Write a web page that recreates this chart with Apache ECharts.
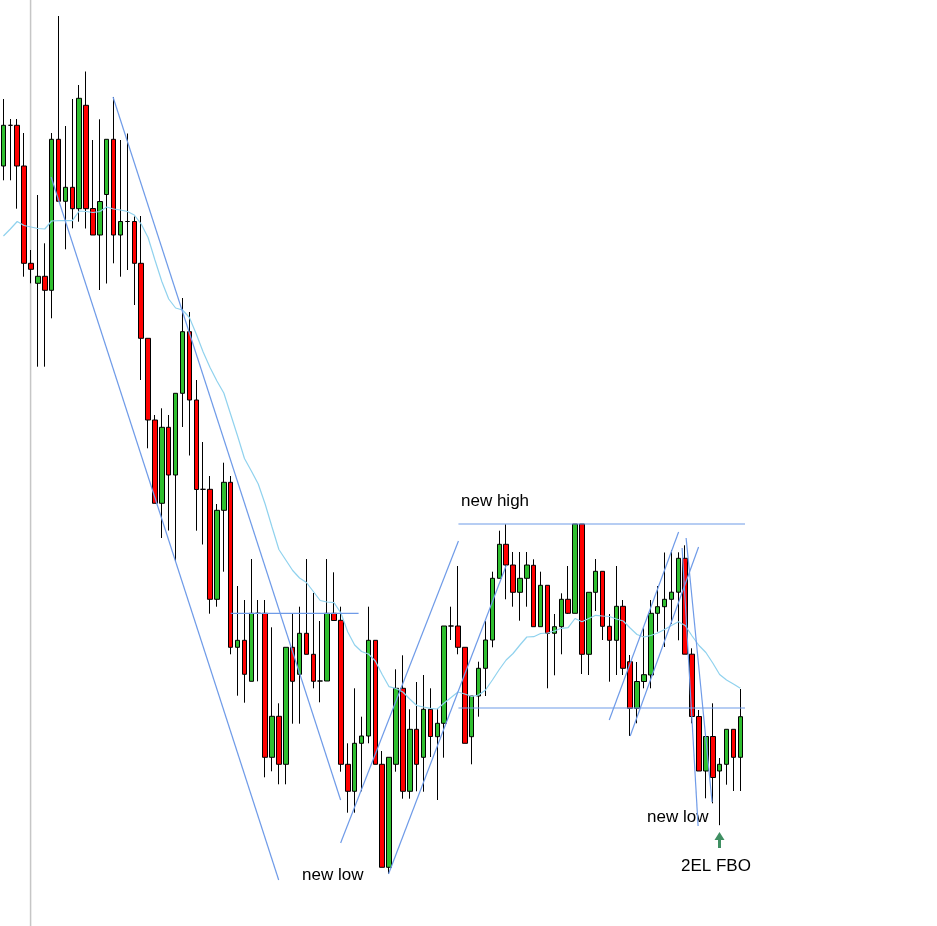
<!DOCTYPE html>
<html>
<head>
<meta charset="utf-8">
<script src="https://cdn.jsdelivr.net/npm/echarts@6/dist/echarts.min.js"></script>
<style>
html,body{margin:0;padding:0;background:#fff;}
#chart{width:937px;height:926px;}
</style>
</head>
<body>
<div id="chart"></div>
<script>
// Price values (arbitrary units; axis hidden)
const opens = [
760, 800.7, 800.7, 760, 662.7, 642.7, 649.7, 635.7, 786.7, 724.7,
738.7, 717.3, 820.7, 717.5, 691, 731.5, 786.7, 691, 704.5, 704.5,
662.7, 587.7, 506, 422.7, 498.7, 451, 532.7, 594.3, 526, 436.7,
436.7, 326.7, 415.7, 443.7, 278.7, 285.7, 244.7, 312.7, 312.7, 168.7,
209.7, 161.7, 278.7, 251.7, 292.7, 271.7, 245, 245, 312.7, 305.7,
161.7, 134.7, 182.7, 190, 285.7, 161.7, 58.7, 161.7, 237.7, 134.7,
196.7, 168.7, 216.7, 189.3, 202.7, 300, 300, 278.7, 189.3, 230,
257.7, 286, 347.7, 381.7, 361, 333.7, 347.7, 360.7, 299.3, 340.7,
292.7, 299.3, 326.7, 312.7, 402, 271.7, 333.7, 354.7, 299.7, 285.7,
319.7, 264.3, 217.7, 244.5, 251, 312.7, 319.3, 326.7, 333.8, 367.7,
271.8, 209.5, 155, 189.5, 155, 161.7, 196.7, 168.7
];
const closes = [
800.7, 800.7, 760, 662.7, 656.7, 649.7, 635.7, 786.7, 724.7, 738.7,
717.3, 827.7, 717.3, 691, 724.5, 786.7, 691, 704.5, 704.5, 662.7,
587.7, 506, 422.7, 498.7, 451, 532.7, 594.3, 526, 436.5, 436.7,
326.7, 415.7, 443.7, 278.7, 285.7, 251.7, 312.7, 312.7, 168.7, 209.7,
161.7, 278.7, 244.7, 292.7, 271.7, 244.7, 245, 312.7, 305.5, 161.7,
134.7, 182.7, 190, 285.7, 161.7, 58.7, 168.7, 237.7, 134.7, 196.7,
161.7, 216.7, 189.5, 202.7, 300, 300, 278.7, 182.7, 230, 257.7,
286, 347.7, 381.7, 361, 333.7, 347.7, 361, 299.3, 340.7, 292.7,
299.3, 326.7, 312.7, 402, 271.7, 333.7, 354.7, 299.7, 285.7, 319.7,
257.7, 217.7, 244.5, 251.3, 312.7, 319.3, 326.7, 333.8, 367.7, 271.8,
209.5, 155, 189.5, 148.5, 161.7, 196.7, 168.7, 209.3
];
const lows = [
745.7, 745.7, 717.3, 649.3, 642.7, 559.3, 559.3, 607.7, 724.7, 676.7,
697.7, 704.3, 697.5, 691, 636, 642.5, 662.7, 649.3, 656, 621,
546, 477.7, 422.7, 388, 395.5, 365, 499, 470.5, 395.3, 381.5,
312.3, 319.3, 354.3, 271.7, 230.3, 223.3, 244.7, 244.7, 148.7, 154.7,
141.7, 141.7, 202.3, 202.3, 271.7, 237.7, 223.7, 245, 305.5, 154.3,
113.3, 113.3, 134.7, 182.7, 161.7, 58.7, 52, 154.3, 127.3, 127.3,
134.7, 134.3, 169, 126, 168.3, 286, 271.7, 182.7, 161.7, 209.3,
230, 278.7, 347.7, 326.7, 319.3, 305.3, 319.3, 299.3, 299.3, 237.7,
250.7, 271.7, 312, 312.7, 252, 251, 315, 286, 244.3, 251,
251, 190, 202.7, 237.7, 237.7, 294.3, 279, 302, 285.7, 271.8,
202.7, 155, 127.7, 122.7, 100.8, 141.3, 135, 135
];
const highs = [
827, 807, 807, 793, 676, 731, 682.7, 793, 910, 800,
827, 841, 854.5, 786, 806.7, 786.7, 829, 786, 792.5, 709.5,
710, 587.7, 511, 517.7, 511, 532.7, 628, 614, 546, 484,
450, 422, 463.3, 450, 340, 326, 367, 326, 326, 298.7,
222.7, 278.7, 312.7, 319.3, 367, 333, 305, 367, 353.7, 319.3,
182.7, 237.7, 209.3, 319.3, 285.7, 175, 168.7, 256.7, 270.7, 216.7,
244, 251, 237.7, 217.7, 300, 319.3, 360, 278.7, 230, 264.3,
305, 354.3, 395.3, 401.7, 374, 374, 374, 366.7, 354.3, 340.7,
312, 332.7, 360, 402, 402, 333.7, 367, 354.7, 312, 360,
326, 271, 264, 297.7, 326, 340, 373.5, 376, 373.7, 380.7,
277.7, 216, 189.5, 222.7, 168, 196.7, 196.7, 237
];
const movingAvg = [
690, 697, 704.5, 700.5, 699, 697.5, 697, 705, 705.3, 705.3,
705.3, 715, 714.5, 713.5, 714.5, 719, 717, 716, 714.5, 711,
702, 688.5, 666, 644.5, 627, 618, 616, 608.5, 592, 574,
558.5, 545, 533, 511.5, 490, 467.5, 455, 442, 422, 399,
376.5, 366, 355.5, 348, 343.5, 334.5, 325.5, 324, 323.3, 313,
294, 281, 274.5, 272, 265, 251.5, 239.3, 237.5, 234, 227,
220.5, 219, 217.7, 217, 223, 228.5, 234, 232, 229.5, 231,
236, 246, 256.5, 266, 272.5, 281, 289, 289.3, 292.5, 293,
295, 297.7, 298.3, 307.5, 304.3, 307.5, 310.7, 310, 309.5, 307,
305, 298, 291.5, 289, 290.5, 293, 296.5, 300.5, 304.3, 300.5,
290, 280.5, 273.5, 263, 251.5, 246, 242, 237.7
];
// Drawn trend lines: [[barIndex, price], [barIndex, price]]
const trendLines = [
  [[6.92, 749], [39.97, 46]],
  [[15.91, 829], [48.96, 126]],
  [[48.96, 83], [66.07, 385]],
  [[55.92, 52], [73.03, 361]],
  [[87.97, 206], [98.04, 394]],
  [[91.01, 190], [100.94, 379]],
  [[98.55, 378], [100.87, 100]],
  [[99.13, 388], [102.9, 124]]
];
// Horizontal levels: [fromIndex, toIndex, price]
const levels = [
  [66.07, 108.12, 402],
  [66.07, 108.12, 218],
  [33.01, 51.57, 312.7]
];
const separatorIndex = 3.94;

const categories = opens.map((_, i) => String(i + 1));
const candles = opens.map((o, i) => [o, closes[i], lows[i], highs[i]]);

const chart = echarts.init(document.getElementById('chart'));
const lineColor = '#6f9be8';
const series = [
  {
    type: 'line', xAxisIndex: 1, yAxisIndex: 0, symbol: 'none', silent: true, z: 1,
    data: [[separatorIndex, 0], [separatorIndex, 926]],
    lineStyle: {color: '#c6c6c6', width: 1.5}
  },
  {
    type: 'candlestick', xAxisIndex: 0, yAxisIndex: 0, z: 3,
    data: candles, barWidth: 5,
    itemStyle: {
      color: '#2fbf2f', color0: '#ff0000',
      borderColor: '#000', borderColor0: '#000', borderColorDoji: '#000', borderWidth: 1
    }
  },
  {
    type: 'line', xAxisIndex: 0, yAxisIndex: 0, symbol: 'none', z: 4,
    data: movingAvg, lineStyle: {color: '#90d2ee', width: 1.2}
  }
];
trendLines.forEach(tl => series.push({
  type: 'line', xAxisIndex: 1, yAxisIndex: 0, symbol: 'none', z: 5, clip: false,
  data: tl, lineStyle: {color: lineColor, width: 1.2}
}));
levels.forEach(lv => series.push({
  type: 'line', xAxisIndex: 1, yAxisIndex: 0, symbol: 'none', z: 5, clip: false,
  data: [[lv[0], lv[2]], [lv[1], lv[2]]], lineStyle: {color: lineColor, width: 1.2}
}));

const font = '"Liberation Sans", Arial, sans-serif';
chart.setOption({
  animation: false,
  backgroundColor: '#ffffff',
  grid: {left: -1.15, right: 193.25, top: 0, bottom: 0, containLabel: false},
  xAxis: [
    {type: 'category', data: categories, boundaryGap: true, show: false},
    {type: 'value', min: -0.5, max: 107.5, show: false}
  ],
  yAxis: [{type: 'value', min: 0, max: 926, show: false, splitLine: {show: false}}],
  series: series,
  graphic: [
    {type: 'text', left: 461, top: 493, style: {text: 'new high', font: '17px ' + font, fill: '#000'}},
    {type: 'text', left: 302, top: 867, style: {text: 'new low', font: '17px ' + font, fill: '#000'}},
    {type: 'text', left: 647, top: 809, style: {text: 'new low', font: '17px ' + font, fill: '#000'}},
    {type: 'text', left: 681, top: 858, style: {text: '2EL FBO', font: '17px ' + font, fill: '#000'}},
    {type: 'polygon', shape: {points: [[719.5, 832], [714.5, 840], [718, 840], [718, 848], [721, 848], [721, 840], [724.5, 840]]},
     style: {fill: '#3f8f62'}}
  ]
});
</script>
</body>
</html>
